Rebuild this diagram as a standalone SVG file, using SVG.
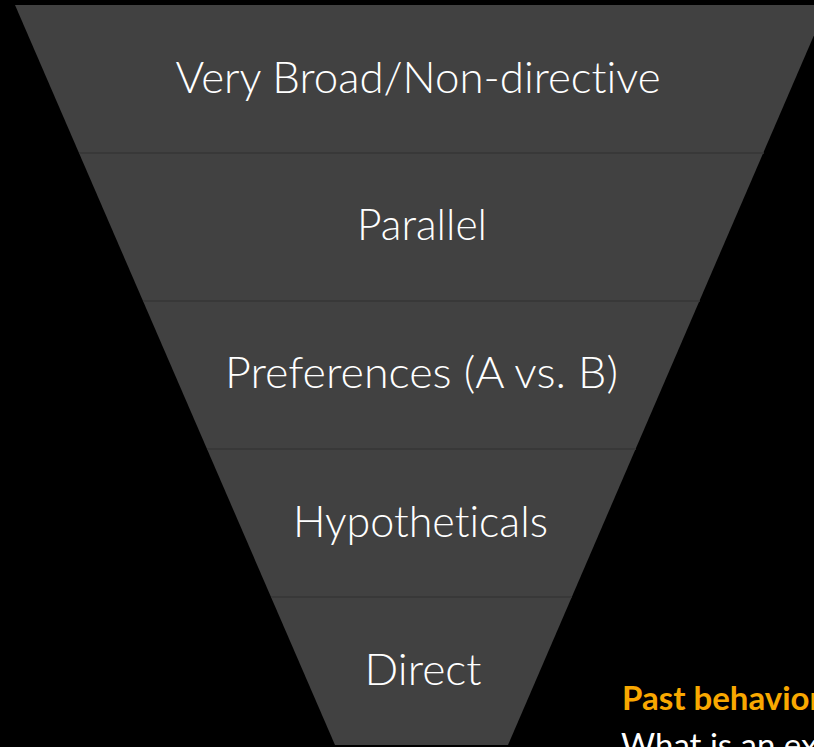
<svg xmlns="http://www.w3.org/2000/svg" width="814" height="747" viewBox="0 0 814 747">
<style>
text{font-variant-ligatures:none;font-feature-settings:"liga" 0}
.lbl{font-family:Lato,"Open Sans","Liberation Sans",sans-serif;font-weight:300;font-size:44px;fill:#ffffff;text-anchor:middle}
.sep{stroke:#363636;stroke-width:1.5}
.hd{font-family:Lato,"Open Sans","Liberation Sans",sans-serif;font-weight:700;font-size:33px;fill:#F9A800}
.bd{font-family:Lato,"Open Sans","Liberation Sans",sans-serif;font-weight:400;font-size:33px;fill:#ffffff}
</style>
<rect width="814" height="747" fill="#000000"/>
<g id="funnel">
<polygon points="15,5 827,5 508,745 335,745" fill="#414141"/>
</g>
<g id="connectors">
<line class="sep" x1="79" y1="153" x2="764" y2="153"/>
<line class="sep" x1="143" y1="301" x2="700" y2="301"/>
<line class="sep" x1="207" y1="449" x2="636" y2="449"/>
<line class="sep" x1="271" y1="597" x2="572" y2="597"/>
</g>
<g id="node1"><text class="lbl" x="418" y="93" textLength="485" lengthAdjust="spacingAndGlyphs">Very Broad/Non-directive</text></g>
<g id="node2"><text class="lbl" x="422" y="240" textLength="130" lengthAdjust="spacingAndGlyphs">Parallel</text></g>
<g id="node3"><text class="lbl" x="421.5" y="388" textLength="393" lengthAdjust="spacingAndGlyphs">Preferences (A vs. B)</text></g>
<g id="node4"><text class="lbl" x="420.5" y="537" textLength="255" lengthAdjust="spacingAndGlyphs">Hypotheticals</text></g>
<g id="node5"><text class="lbl" x="423" y="685" textLength="117" lengthAdjust="spacingAndGlyphs">Direct</text></g>
<g id="note">
<text class="hd" x="622" y="710">Past behavior</text>
<text class="bd" x="621" y="757">What is an ex</text>
</g>
</svg>
